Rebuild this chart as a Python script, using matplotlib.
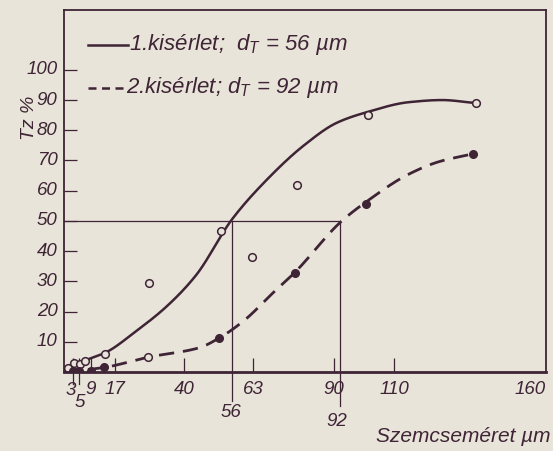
import numpy as np
import matplotlib.pyplot as plt

plt.rcParams['font.family'] = ['Liberation Sans', 'DejaVu Sans']
plt.rcParams['font.style'] = 'italic'
plt.rcParams['mathtext.fontset'] = 'custom'
plt.rcParams['mathtext.it'] = 'Liberation Sans:italic'
plt.rcParams['mathtext.rm'] = 'Liberation Sans:italic'

ink = '#3f2435'
paper = '#e8e4da'

# 1. kísérlet – mért pontok (üres karika)
x1 = [1.5, 3.5, 5.5, 7.0, 13.7, 28.3, 52.2, 62.8, 77.8, 101.2, 137.2]
y1 = [1.2, 2.9, 2.6, 3.8, 6.0, 29.3, 46.8, 38.1, 62.0, 85.1, 89.0]
# 1. kísérlet – kiegyenlítő görbe pontjai
c1x = [0, 7, 14, 24, 34, 44, 56, 67, 80, 91, 101, 115, 126, 137.2]
c1y = [0.5, 3.8, 6.5, 13.5, 21.5, 32, 50.5, 63, 75, 82.5, 86, 89.3, 90.0, 89.0]

# 2. kísérlet – mért pontok (teli pont)
x2 = [3.0, 5.0, 9.0, 13.4, 51.8, 77.0, 100.8, 136.4]
y2 = [0.4, 0.4, 0.4, 1.5, 11.4, 32.8, 55.7, 72.2]
x2o = [27.9]
y2o = [4.9]
# 2. kísérlet – kiegyenlítő görbe pontjai
c2x = [0, 13.4, 28, 45, 52, 60, 70, 77, 92.3, 101, 115, 125, 136.4]
c2y = [0.0, 1.5, 4.9, 8.0, 11.4, 17, 26.5, 33, 49.7, 56.5, 65.5, 69.6, 72.2]

xticks = [3, 5, 9, 17, 40, 63, 90, 110]
xlabels = ['3', '5', '9', '17', '40', '63', '90', '110', '160']
yticks = [10, 20, 30, 40, 50, 60, 70, 80, 90, 100]
d50 = [56, 92]


def pchip(xs, ys, n=400):
    # monoton köbös Hermite-interpoláció (nincs túllövés)
    xs = np.asarray(xs, float)
    ys = np.asarray(ys, float)
    h = np.diff(xs)
    d = np.diff(ys) / h
    m = np.zeros_like(ys)
    for i in range(1, len(xs) - 1):
        if d[i - 1] * d[i] > 0:
            w1 = 2 * h[i] + h[i - 1]
            w2 = h[i] + 2 * h[i - 1]
            m[i] = (w1 + w2) / (w1 / d[i - 1] + w2 / d[i])
    m[0] = d[0]
    m[-1] = d[-1]
    xx = np.linspace(xs[0], xs[-1], n)
    j = np.clip(np.searchsorted(xs, xx) - 1, 0, len(xs) - 2)
    t = (xx - xs[j]) / h[j]
    h00 = 2 * t ** 3 - 3 * t ** 2 + 1
    h10 = t ** 3 - 2 * t ** 2 + t
    h01 = -2 * t ** 3 + 3 * t ** 2
    h11 = t ** 3 - t ** 2
    yy = h00 * ys[j] + h10 * h[j] * m[j] + h01 * ys[j + 1] + h11 * h[j] * m[j + 1]
    return xx, yy


fig = plt.figure(figsize=(5.53, 4.51), dpi=100, facecolor=paper)
ax = fig.add_axes([64 / 553, 79 / 451, 482 / 553, 362 / 451])
ax.set_facecolor(paper)
ax.set_xlim(0, 160.7)
ax.set_ylim(0, 119.8)

for s in ax.spines.values():
    s.set_color(ink)
    s.set_linewidth(1.3)
ax.spines['bottom'].set_linewidth(2.0)

# kiegyenlítő görbék
xx, yy = pchip(c1x, c1y)
ax.plot(xx, yy, color=ink, lw=1.8, solid_capstyle='round')
xx, yy = pchip(c2x, c2y)
ax.plot(xx, yy, color=ink, lw=2.0, dashes=(5.5, 3.2))

# mért pontok
ax.plot(x1, y1, 'o', ms=5.5, mfc=paper, mec=ink, mew=1.1)
ax.plot(x2, y2, 'o', ms=5.5, mfc=ink, mec=ink)
ax.plot(x2o, y2o, 'o', ms=5.5, mfc=paper, mec=ink, mew=1.1)

# 50 %-os szemcseméret vonalai
ax.plot([0, d50[1]], [50, 50], color=ink, lw=0.9)
ax.plot([d50[0], d50[0]], [50, -9.5], color=ink, lw=0.9, clip_on=False)
ax.plot([d50[1], d50[1]], [50, -11.2], color=ink, lw=0.9, clip_on=False)

ax.set_xticks(xticks)
ax.set_yticks(yticks)
ax.tick_params(axis='x', direction='in', length=10, width=0.9, color=ink, labelbottom=False)
ax.tick_params(axis='y', direction='in', length=9, width=0.9, color=ink, labelleft=False)
ax.plot([3, 3], [0, -4], color=ink, lw=0.9, clip_on=False)
ax.plot([5, 5], [0, -4], color=ink, lw=0.9, clip_on=False)

tf = ax.get_xaxis_transform()
lab_y = {'3': -0.052, '5': -0.083}
lab_dx = {'3': -0.8, '5': 0.2, '160': -4.7}
for v, t in zip(xticks + [160], xlabels):
    ax.text(v + lab_dx.get(t, 0), lab_y.get(t, -0.047), t, transform=tf, ha='center', va='center',
            fontsize=13.5, color=ink)
ax.text(d50[0] - 0.5, -0.113, '56', transform=tf, ha='center', va='center', fontsize=13.5, color=ink)
ax.text(d50[1] - 1.0, -0.136, '92', transform=tf, ha='center', va='center', fontsize=13.5, color=ink)

for v in yticks:
    ax.text(-2.2, v, str(v), ha='right', va='center', fontsize=13.5, color=ink)

ax.text(-11.5, 84, 'Tz %', rotation=90, ha='center', va='center', fontsize=14, color=ink)
fig.text(551 / 553, 14 / 451, 'Szemcseméret µm', ha='right', va='center', fontsize=15, color=ink)

# jelmagyarázat
ax.plot([8, 21.5], [108.3, 108.3], color=ink, lw=1.8)
ax.text(21.7, 108.3, r'1.kisérlet;  $d_T$ = 56 µm', ha='left', va='center', fontsize=16, color=ink)
ax.plot([8, 20.5], [94, 94], color=ink, lw=1.8, dashes=(3.2, 2.2))
ax.text(20.7, 94, r'2.kisérlet; $d_T$ = 92 µm', ha='left', va='center', fontsize=16, color=ink)

fig.savefig('out.png', dpi=100, facecolor=paper)
